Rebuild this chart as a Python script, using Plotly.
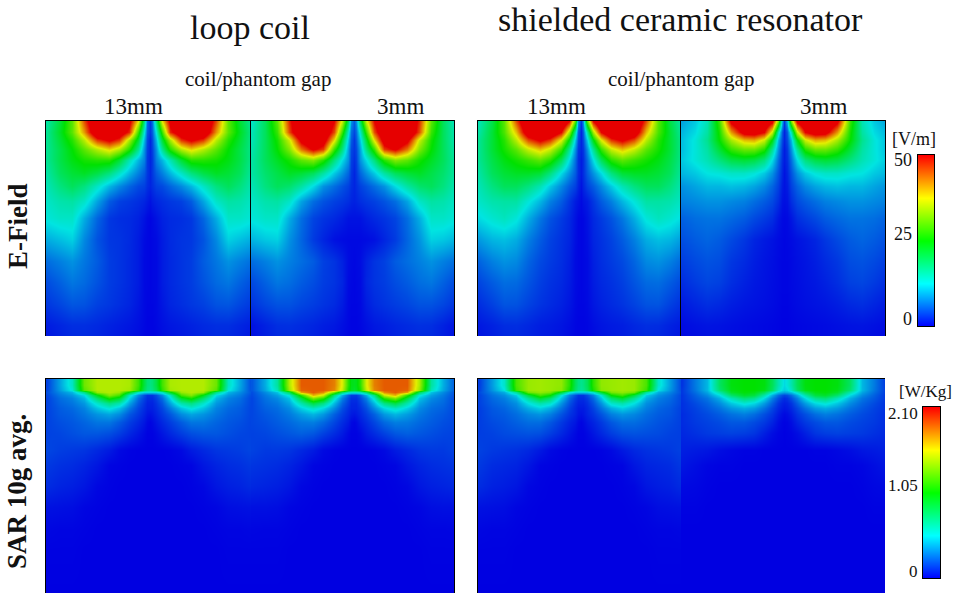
import plotly.graph_objects as go

OFFSETS = [0, .012, .03, .06, .1, .15, .2, .26, .32, .38, .44, .5]
E_DEPTH = [0, .05, .09, .13, .18, .24, .3, .37, .45, .55, .65, .75, .85, .95, 1]
SAR_DEPTH = [0, .03, .05, .06, .075, .09, .11, .135, .165, .2, .25, .33, .4, .5, .6, .7, .8, 1]

E_LOOP_13 = [
 [3,6,18,38,52,60,62,60,46,30,22,16],
 [3,5,13,28,48,56,58,58,42,30,23,17],
 [2,4,10,22,34,47,51,47,35,27,22,17],
 [2,3.5,8,17,27,35,39,35,30,25,21,17],
 [2,3,7,10,15,22,27,27,26,24,21,17],
 [2,3,5,7,10,14,18,21,23,22,20,16],
 [2,2.5,3.5,4,5.5,7.5,10,14,18,20,18,15],
 [1,1.5,2,2.5,3,3.5,5,9,14,16,15.5,14],
 [.3,.5,1,1.8,2.3,2.5,3,5.5,9.5,14,14,13],
 [.3,.4,.6,1.5,2.3,2.8,3,4.5,7.5,11.5,10.5,9.5],
 [.3,.4,.5,1.5,2.2,2.8,3.3,5,6.5,8,7,6],
 [.3,.4,.5,1.5,2.2,2.8,3.3,4.5,5.8,6.5,5.3,4.2],
 [.3,.3,.5,1.2,2,2.5,3,3.5,4.5,4.7,3.8,3],
 [.2,.2,.4,.8,1.2,1.5,1.8,2.2,2.5,2.5,2,1.5],
 [.2,.2,.3,.7,1,1.3,1.6,2,2.3,2.2,1.8,1.2],
]
E_LOOP_3 = [
 [5,8,20,36,50,60,64,60,48,30,20,14],
 [4,6,14,28,46,58,62,60,46,28,20,15],
 [3,5,11,22,38,54,58,52,36,26,20,15],
 [3,4,9,18,28,47,51,44,32,25,20,15.5],
 [2.5,3.5,8,12,18,27,32,30,26,23,20,16],
 [2,3,5.5,8,11,16,20,22,23,21,19,16],
 [2,2.5,3.5,4.5,6,8,12,16,19,20,18,15],
 [1.8,2,2.5,3,3.5,4.5,6,9,14,16,15.5,14],
 [1,1,1,1.6,2.2,2.8,3.7,6,9.5,14,14,13],
 [.5,.5,.5,.6,.9,2,3.2,5.5,8,11.5,11,10],
 [.4,.5,.7,1.8,2.8,3.5,5,6,7,8,7,6],
 [.3,.4,.6,2,2.8,3.3,4.2,5,6,6.5,5.3,4],
 [.3,.3,.5,1.5,2.3,2.8,3.3,3.8,4.5,4.5,3.8,2.8],
 [.2,.2,.4,.8,1.3,1.6,2,2.3,2.6,2.5,1.8,1],
 [.2,.2,.3,.7,1.1,1.4,1.8,2.1,2.3,2.2,1.6,.9],
]
E_CERAMIC_13 = [
 [3,8,30,50,60,64,64,60,46,30,21,15],
 [2,5,16,34,50,58,60,56,40,29,22,16],
 [2,4,11,24,37,47,51,46,35,27,22,17],
 [2,3,8,17,28,36,40,36,30,26,22,17],
 [1.5,2.5,6,12,20,27,30,28,26,24,21,17],
 [1.5,2.5,5,8,12,18,22,23,23,22,20,16],
 [1,2,3.5,5,7.5,11,15,18,20,20,18,15],
 [.5,1,1.5,3,5,7,10,13,16,16,15.5,14],
 [.3,.4,1,2.2,3.2,4.5,6.5,9.5,13,14.5,13.5,12],
 [.3,.4,.8,2,2.7,3.6,5,7,9.5,10.5,10,8.5],
 [.3,.4,.6,1.7,2.5,3.2,4,5.5,7.5,8,7,5.5],
 [.3,.4,.6,1.5,2.2,2.7,3.4,4.6,5.8,6,5,3.8],
 [.3,.3,.5,1.2,1.8,2.3,2.8,3.6,4.5,4.6,3.5,2.5],
 [.2,.2,.3,.7,1.1,1.4,1.6,2.1,2.5,2.4,1.8,1.3],
 [.2,.2,.3,.6,1,1.3,1.5,1.9,2.2,2.1,1.6,1.1],
]
E_CERAMIC_3 = [
 [3,10,32,52,58,60,60,52,28,15,11,9],
 [2,5,15,36,50,54,53,42,26,16,12,10],
 [2,4,10,24,36,41,40,34,25,17,13,10.5],
 [1.5,3,8,17,27,31,31,28,22,16,13,10.5],
 [1.5,2.5,6,12,18,21,22,21,18,15,13,11],
 [1,2,4.5,8,11,13,14,14,13,12.5,11,10],
 [1,1.5,3.5,5.5,7.5,9,10,10.5,10,10,9,8],
 [.8,1,2.5,4,5,6,7,7.5,8,8,7.5,7],
 [.4,.5,1.2,2.5,3.2,4,5,5.7,6.3,6.3,6,5.3],
 [.3,.4,.6,1,1.4,2,3,4,5,5.5,5,4.3],
 [.3,.3,.5,.8,1.1,1.6,2.3,3,4.2,4.5,4,3.3],
 [.3,.3,.5,.7,1,1.3,1.8,2.5,3.5,3.8,3.2,2.4],
 [.2,.2,.4,.6,.8,1,1.2,1.6,2.2,2.5,2,1.4],
 [.1,.1,.2,.3,.4,.5,.6,.8,1,1.1,.9,.6],
 [.1,.1,.2,.3,.4,.5,.6,.7,.9,.9,.7,.5],
]
SAR_LOOP_13 = [
 [.75,.78,.9,1.2,1.44,1.46,1.46,1.46,1.3,.6,.38,.15],
 [.75,.78,.9,1.2,1.44,1.46,1.46,1.46,1.3,.6,.38,.15],
 [.72,.75,.85,1.15,1.42,1.46,1.46,1.46,1.25,.55,.36,.16],
 [.5,.5,.5,.6,1.0,1.4,1.46,1.4,.75,.42,.32,.18],
 [.12,.12,.18,.32,.6,1.2,1.35,1.0,.5,.35,.28,.16],
 [.1,.1,.15,.25,.5,.95,1.1,.8,.42,.3,.25,.15],
 [.08,.08,.12,.2,.38,.65,.75,.58,.35,.27,.23,.15],
 [.07,.07,.1,.16,.28,.45,.55,.45,.3,.24,.21,.15],
 [.04,.05,.08,.13,.2,.32,.38,.34,.27,.22,.2,.15],
 [.01,.02,.05,.09,.14,.21,.27,.27,.23,.2,.18,.15],
 [.005,.005,.02,.05,.09,.14,.18,.2,.2,.18,.16,.15],
 [0,0,0,0,.005,.02,.06,.09,.12,.13,.14,.16],
 [0,0,0,0,0,.005,.01,.05,.08,.1,.11,.13],
 [0,0,0,0,0,0,.005,.015,.05,.07,.08,.1],
 [0,0,0,0,0,0,0,.005,.012,.03,.035,.04],
 [0,0,0,0,0,0,0,0,.005,.01,.01,.015],
 [0,0,0,0,0,0,0,0,0,.005,.005,.005],
 [0,0,0,0,0,0,0,0,0,0,0,0],
]
SAR_LOOP_3 = [
 [.98,1.0,1.15,1.55,1.82,1.9,1.9,1.9,1.45,.68,.4,.2],
 [.98,1.0,1.15,1.55,1.82,1.9,1.9,1.9,1.45,.68,.4,.2],
 [.95,.98,1.1,1.5,1.8,1.9,1.9,1.88,1.4,.62,.38,.2],
 [.6,.6,.62,.8,1.3,1.8,1.9,1.75,.85,.45,.32,.18],
 [.14,.14,.22,.4,.75,1.5,1.7,1.15,.55,.37,.28,.17],
 [.11,.11,.17,.3,.58,1.15,1.35,.9,.45,.32,.26,.16],
 [.09,.09,.14,.23,.43,.75,.9,.65,.38,.28,.24,.16],
 [.08,.08,.11,.18,.32,.5,.6,.48,.32,.25,.22,.16],
 [.05,.06,.09,.14,.22,.35,.42,.36,.28,.23,.2,.16],
 [.01,.02,.06,.1,.16,.24,.29,.28,.24,.21,.18,.16],
 [.005,.005,.02,.06,.1,.15,.2,.22,.2,.18,.16,.15],
 [0,0,0,0,.005,.02,.06,.09,.12,.13,.13,.15],
 [0,0,0,0,0,.005,.012,.05,.08,.1,.11,.12],
 [0,0,0,0,0,0,.005,.015,.05,.07,.08,.09],
 [0,0,0,0,0,0,0,.005,.012,.03,.035,.035],
 [0,0,0,0,0,0,0,0,.005,.01,.01,.012],
 [0,0,0,0,0,0,0,0,0,.005,.005,.005],
 [0,0,0,0,0,0,0,0,0,0,0,0],
]
SAR_CERAMIC_13 = [
 [.72,.75,.85,1.15,1.38,1.4,1.42,1.4,1.22,.58,.36,.14],
 [.72,.75,.85,1.15,1.38,1.4,1.42,1.4,1.22,.58,.36,.14],
 [.7,.72,.82,1.1,1.36,1.4,1.42,1.4,1.18,.52,.34,.15],
 [.48,.48,.48,.58,.95,1.32,1.38,1.3,.7,.4,.3,.17],
 [.12,.12,.18,.3,.55,1.05,1.2,.9,.47,.33,.26,.15],
 [.1,.1,.14,.24,.45,.8,.95,.7,.4,.29,.24,.15],
 [.08,.08,.11,.19,.34,.58,.65,.52,.33,.26,.22,.15],
 [.06,.06,.09,.15,.26,.4,.48,.4,.29,.23,.2,.14],
 [.04,.05,.08,.12,.19,.29,.34,.31,.25,.21,.19,.14],
 [.01,.02,.05,.08,.13,.2,.25,.25,.22,.19,.17,.14],
 [.005,.005,.02,.05,.09,.14,.18,.19,.18,.17,.15,.14],
 [0,0,0,0,.005,.02,.055,.09,.11,.12,.13,.15],
 [0,0,0,0,0,.005,.01,.05,.08,.09,.1,.13],
 [0,0,0,0,0,0,.005,.015,.05,.065,.075,.1],
 [0,0,0,0,0,0,0,.005,.012,.03,.035,.04],
 [0,0,0,0,0,0,0,0,.005,.01,.01,.015],
 [0,0,0,0,0,0,0,0,0,.005,.005,.005],
 [0,0,0,0,0,0,0,0,0,0,0,0],
]
SAR_CERAMIC_3 = [
 [.5,.55,.65,.85,1.02,1.05,1.05,1.02,.82,.42,.28,.12],
 [.5,.55,.65,.85,1.02,1.05,1.05,1.02,.82,.42,.28,.12],
 [.47,.5,.6,.82,1.0,1.05,1.05,1.0,.78,.42,.27,.13],
 [.38,.4,.45,.6,.85,1.0,1.03,.95,.65,.38,.25,.13],
 [.16,.18,.25,.4,.65,.9,.95,.8,.5,.32,.22,.12],
 [.1,.12,.18,.3,.5,.72,.78,.62,.4,.27,.2,.12],
 [.07,.08,.12,.22,.36,.5,.56,.46,.32,.23,.17,.11],
 [.05,.06,.09,.16,.26,.36,.4,.35,.26,.2,.15,.11],
 [.02,.03,.06,.12,.18,.25,.29,.26,.21,.17,.14,.1],
 [.005,.01,.03,.08,.13,.17,.2,.2,.17,.15,.13,.1],
 [0,.005,.01,.03,.07,.12,.14,.15,.14,.13,.11,.09],
 [0,0,0,0,0,.005,.005,.015,.03,.05,.06,.07],
 [0,0,0,0,0,0,0,.005,.005,.012,.03,.05],
 [0,0,0,0,0,0,0,0,0,.005,.015,.02],
 [0,0,0,0,0,0,0,0,0,0,.005,.005],
 [0,0,0,0,0,0,0,0,0,0,0,0],
 [0,0,0,0,0,0,0,0,0,0,0,0],
 [0,0,0,0,0,0,0,0,0,0,0,0],
]

E_MAX = 50
SAR_MAX = 2.1
E_BAR = [0, 50]
SAR_BAR = [0, 2.1]

FIELD_SCALE = [[0, "rgb(0,0,225)"], [.25, "rgb(0,228,225)"], [.5, "rgb(0,225,0)"],
               [.75, "rgb(228,238,0)"], [1, "rgb(230,0,0)"]]
BAR_SCALE = [[0, "rgb(0,0,255)"], [.25, "rgb(0,255,255)"], [.5, "rgb(0,255,0)"],
             [.75, "rgb(255,255,0)"], [1, "rgb(255,0,0)"]]
W, H = 953, 593
SERIF = "Liberation Serif"
CENTER = .507


def full(row):
    return list(row[:0:-1]) + list(row)


XS = [CENTER - d for d in OFFSETS[:0:-1]] + [CENTER + d for d in OFFSETS]

fig = go.Figure()
panels = [
    (E_LOOP_13, E_DEPTH, E_MAX, 46, 251, 121, 336),
    (E_LOOP_3, E_DEPTH, E_MAX, 251, 454, 121, 336),
    (E_CERAMIC_13, E_DEPTH, E_MAX, 478, 681, 121, 336),
    (E_CERAMIC_3, E_DEPTH, E_MAX, 681, 885, 121, 336),
    (SAR_LOOP_13, SAR_DEPTH, SAR_MAX, 46, 251, 379, 593),
    (SAR_LOOP_3, SAR_DEPTH, SAR_MAX, 251, 454, 379, 593),
    (SAR_CERAMIC_13, SAR_DEPTH, SAR_MAX, 478, 681, 379, 593),
    (SAR_CERAMIC_3, SAR_DEPTH, SAR_MAX, 681, 885, 379, 593),
]
layout = {}
for i, (z, depth, zmax, x0, x1, y0, y1) in enumerate(panels, start=1):
    fig.add_trace(go.Heatmap(x=XS, y=depth, z=[full(r) for r in z], zmin=0, zmax=zmax,
                             colorscale=FIELD_SCALE, zsmooth="best", showscale=False,
                             xaxis=f"x{i}", yaxis=f"y{i}"))
    layout[f"xaxis{i}"] = dict(domain=[x0 / W, x1 / W], range=[0, 1], anchor=f"y{i}", side="top",
                               showticklabels=False, ticks="", showgrid=False, zeroline=False,
                               showline=True, linecolor="black", linewidth=1, mirror=False)
    layout[f"yaxis{i}"] = dict(domain=[1 - y1 / H, 1 - y0 / H], range=[1, 0], anchor=f"x{i}",
                               showticklabels=False, ticks="", showgrid=False, zeroline=False,
                               showline=i != 8, side="right" if i == 6 else "left",
                               linecolor="black", linewidth=1, mirror=i <= 4)

bars = [(E_BAR, 9, 918, 934, 155, 326), (SAR_BAR, 10, 923, 940, 407, 578)]
for vals, n, x0, x1, y0, y1 in bars:
    fig.add_trace(go.Heatmap(x=[0, 1], y=vals, z=[[v, v] for v in vals], zmin=vals[0], zmax=vals[1],
                             colorscale=BAR_SCALE, zsmooth="best", showscale=False,
                             xaxis=f"x{n}", yaxis=f"y{n}"))
    layout[f"xaxis{n}"] = dict(domain=[x0 / W, x1 / W], range=[0, 1], anchor=f"y{n}", showticklabels=False,
                               ticks="", showgrid=False, zeroline=False, showline=True,
                               linecolor="black", linewidth=1, mirror=True)
    layout[f"yaxis{n}"] = dict(domain=[1 - y1 / H, 1 - y0 / H], range=[vals[0], vals[1]], anchor=f"x{n}",
                               showticklabels=False, ticks="", showgrid=False, zeroline=False,
                               showline=True, linecolor="black", linewidth=1, mirror=True)


def label(text, x, y, size, xanchor="center", bold=False, angle=0):
    fig.add_annotation(text=f"<b>{text}</b>" if bold else text, x=x / W, y=1 - y / H, xref="paper", yref="paper",
                       xanchor=xanchor, yanchor="middle", showarrow=False, textangle=angle,
                       font=dict(family=SERIF, size=size, color="#111111"))


label("loop coil", 250, 28, 34)
label("shielded ceramic resonator", 680, 20, 34)
label("coil/phantom gap", 258, 79, 21)
label("coil/phantom gap", 681, 79, 21)
label("13mm", 133, 107, 23)
label("3mm", 400, 107, 23)
label("13mm", 556, 107, 23)
label("3mm", 823, 107, 23)
label("E-Field", 18, 226, 27, bold=True, angle=-90)
label("SAR 10g avg.", 17, 492, 27, bold=True, angle=-90)
label("[V/m]", 914, 139, 18)
label("50", 914, 160, 18, "right")
label("25", 914, 234, 18, "right")
label("0", 914, 319, 18, "right")
label("[W/Kg]", 925, 391, 17)
label("2.10", 920, 413, 17, "right")
label("1.05", 920, 486, 17, "right")
label("0", 920, 571, 17, "right")

fig.update_layout(width=W, height=H, margin=dict(l=0, r=0, t=0, b=0), paper_bgcolor="white",
                  plot_bgcolor="white", showlegend=False, **layout)
fig.write_html("out.html", config={"displayModeBar": False},
               post_script="document.body.style.margin='0';")
